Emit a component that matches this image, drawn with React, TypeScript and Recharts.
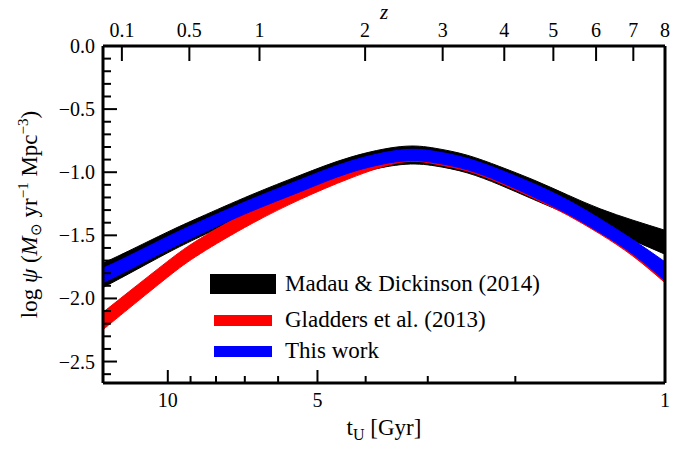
import React from 'react';
import { ComposedChart, Area, XAxis, YAxis, ReferenceLine, Legend, Label } from 'recharts';

// Cosmic age t_U (Gyr) sample points
const ageGyr = [13.5, 12, 10, 8.6, 6.8, 5.4, 4.3, 3.4, 2.9, 2.5, 2.15, 1.84, 1.57, 1.35, 1.16, 1.0];

// Madau & Dickinson (2014) band
const madauHigh = [-1.72, -1.625, -1.473, -1.355, -1.18, -1.022, -0.882, -0.797, -0.81, -0.865, -0.955, -1.06, -1.18, -1.29, -1.38, -1.46];
const madauLow = [-1.913, -1.806, -1.638, -1.51, -1.33, -1.187, -1.03, -0.94, -0.95, -1.005, -1.10, -1.215, -1.33, -1.435, -1.54, -1.65];

// Gladders et al. (2013) band
const gladdersHigh = [-2.11, -1.95, -1.705, -1.525, -1.30, -1.115, -0.958, -0.835, -0.845, -0.90, -0.99, -1.105, -1.24, -1.39, -1.555, -1.74];
const gladdersLow = [-2.247, -2.082, -1.83, -1.645, -1.41, -1.213, -1.048, -0.922, -0.935, -0.99, -1.085, -1.205, -1.34, -1.49, -1.665, -1.875];

// This work band
const thisHigh = [-1.76, -1.665, -1.51, -1.39, -1.215, -1.057, -0.913, -0.824, -0.835, -0.89, -0.98, -1.09, -1.22, -1.37, -1.535, -1.71];
const thisLow = [-1.875, -1.775, -1.615, -1.49, -1.31, -1.152, -1.003, -0.913, -0.925, -0.98, -1.075, -1.195, -1.33, -1.48, -1.65, -1.86];

const seriesNames = ['Madau & Dickinson (2014)', 'Gladders et al. (2013)', 'This work'];
const seriesColors = ['#000000', '#ff0000', '#0000ff'];

// Ticks
const bottomMajorTicks = [10, 5, 1];
const bottomMinorTicks = [9, 8, 7, 6, 4, 3, 2];
const topTickAges = [12.37, 9.05, 6.54, 4.01, 2.80, 2.105, 1.677, 1.376, 1.158, 1.0];
const topTickLabels = ['0.1', '0.5', '1', '2', '3', '4', '5', '6', '7', '8'];
const yMajorTicks = [0, -0.5, -1, -1.5, -2, -2.5];
const yMinorTicks = [-0.1, -0.2, -0.3, -0.4, -0.6, -0.7, -0.8, -0.9, -1.1, -1.2, -1.3, -1.4, -1.6, -1.7, -1.8, -1.9, -2.1, -2.2, -2.3, -2.4, -2.6];

const xDomain = [1, 13.5];
const yDomain = [-2.67, 0];

const FONT = '"Liberation Serif", "Times New Roman", serif';

const data = ageGyr.map((t, i) => ({
  t,
  madau: [madauLow[i], madauHigh[i]],
  gladders: [gladdersLow[i], gladdersHigh[i]],
  thiswork: [thisLow[i], thisHigh[i]],
}));

const fmtY = (v: number) => {
  const s = Math.abs(v).toFixed(1);
  return v < -1e-9 ? '\u2212' + s : s;
};

const LeftTick = (props: any) => {
  const { x, y, payload } = props;
  const v = payload.value;
  const major = yMajorTicks.some((m) => Math.abs(m - v) < 1e-6);
  return (
    <g>
      <line x1={x} x2={x + (major ? 14 : 8)} y1={y} y2={y} stroke="#000" strokeWidth={2} />
      {major && (
        <text x={x - 8} y={y + 7} textAnchor="end" fontSize={20} fontFamily={FONT} fill="#000">
          {fmtY(v)}
        </text>
      )}
    </g>
  );
};

const BottomTick = (props: any) => {
  const { x, y, payload } = props;
  const v = payload.value;
  const major = bottomMajorTicks.includes(v);
  return (
    <g>
      <line x1={x} x2={x} y1={y} y2={y - (major ? 13 : 7)} stroke="#000" strokeWidth={2} />
      {major && (
        <text x={x} y={y + 24} textAnchor="middle" fontSize={20} fontFamily={FONT} fill="#000">
          {String(v)}
        </text>
      )}
    </g>
  );
};

const TopTick = (props: any) => {
  const { x, y, payload, index } = props;
  const idx = topTickAges.findIndex((a) => Math.abs(a - payload.value) < 1e-6);
  const label = topTickLabels[idx >= 0 ? idx : index];
  return (
    <g>
      <line x1={x} x2={x} y1={y} y2={y + 15} stroke="#000" strokeWidth={2} />
      <text x={x} y={y - 9} textAnchor="middle" fontSize={20} fontFamily={FONT} fill="#000">
        {label}
      </text>
    </g>
  );
};

const YLabel = (props: any) => {
  const vb = props.viewBox || { x: 43, y: 46, width: 60, height: 337 };
  const cx = 37;
  const cy = vb.y + vb.height / 2;
  return (
    <text
      x={cx}
      y={cy}
      transform={`rotate(-90 ${cx} ${cy})`}
      textAnchor="middle"
      fontSize={23}
      fontFamily={FONT}
      fill="#000"
    >
      <tspan>{'log '}</tspan>
      <tspan fontStyle="italic">{'\u03C8'}</tspan>
      <tspan>{' ('}</tspan>
      <tspan fontStyle="italic">M</tspan>
      <tspan fontSize={15} dy={4}>{'\u2299'}</tspan>
      <tspan dy={-4}>{' yr'}</tspan>
      <tspan fontSize={15} dy={-9}>{'\u22121'}</tspan>
      <tspan dy={9}>{' Mpc'}</tspan>
      <tspan fontSize={15} dy={-9}>{'\u22123'}</tspan>
      <tspan dy={9}>{')'}</tspan>
    </text>
  );
};

const XLabel = (props: any) => {
  const vb = props.viewBox || { x: 103, y: 383, width: 562, height: 30 };
  const cx = vb.x + vb.width / 2;
  const by = vb.y + 52;
  return (
    <text x={cx} y={by} textAnchor="middle" fontSize={23} fontFamily={FONT} fill="#000">
      <tspan>t</tspan>
      <tspan fontSize={16} dy={5}>U</tspan>
      <tspan dy={-5}>{' [Gyr]'}</tspan>
    </text>
  );
};

const ZLabel = (props: any) => {
  const vb = props.viewBox || { x: 103, y: 16, width: 562, height: 30 };
  const cx = vb.x + vb.width / 2;
  return (
    <text x={cx} y={vb.y + 3} textAnchor="middle" fontSize={21} fontStyle="italic" fontFamily={FONT} fill="#000">
      z
    </text>
  );
};

const LegendBox = () => (
  <div style={{ fontFamily: FONT, fontSize: 23, color: '#000', lineHeight: 1 }}>
    {seriesNames.map((name, i) => (
      <div key={name} style={{ position: 'relative', height: i === 0 ? 36 : 31 }}>
        <div
          style={{
            position: 'absolute',
            left: i === 0 ? 0 : 4,
            top: i === 0 ? 0 : 5,
            width: i === 0 ? 66 : 58,
            height: i === 0 ? 20 : 11,
            background: seriesColors[i],
          }}
        />
        <div style={{ position: 'absolute', left: 75, top: -2, whiteSpace: 'nowrap' }}>{name}</div>
      </div>
    ))}
  </div>
);

export default function App() {
  return (
    <div style={{ position: 'absolute', left: 0, top: 0, width: 699, height: 450, background: '#fff' }}>
      <ComposedChart width={699} height={450} data={data} margin={{ top: 16, right: 34, bottom: 37, left: 43 }}>
        <XAxis
          dataKey="t"
          type="number"
          scale="log"
          domain={xDomain}
          reversed
          allowDataOverflow
          ticks={[...bottomMajorTicks, ...bottomMinorTicks]}
          interval={0}
          tickSize={0}
          tickMargin={0}
          tickLine={false}
          tick={<BottomTick />}
          axisLine={{ stroke: '#000', strokeWidth: 3 }}
          height={30}
        >
          <Label content={<XLabel />} />
        </XAxis>
        <XAxis
          xAxisId="top"
          orientation="top"
          dataKey="t"
          type="number"
          scale="log"
          domain={xDomain}
          reversed
          allowDataOverflow
          ticks={topTickAges}
          interval={0}
          tickSize={0}
          tickMargin={0}
          tickLine={false}
          tick={<TopTick />}
          axisLine={{ stroke: '#000', strokeWidth: 3 }}
          height={30}
        >
          <Label content={<ZLabel />} />
        </XAxis>
        <YAxis
          type="number"
          domain={yDomain}
          allowDataOverflow
          ticks={[...yMajorTicks, ...yMinorTicks]}
          interval={0}
          tickSize={0}
          tickMargin={0}
          tickLine={false}
          tick={<LeftTick />}
          axisLine={{ stroke: '#000', strokeWidth: 3 }}
          width={60}
        >
          <Label content={<YLabel />} />
        </YAxis>
        <Area
          dataKey="madau"
          name={seriesNames[0]}
          type="natural"
          fill={seriesColors[0]}
          fillOpacity={1}
          stroke={seriesColors[0]}
          strokeWidth={1}
          isAnimationActive={false}
          dot={false}
          activeDot={false}
        />
        <Area
          dataKey="gladders"
          name={seriesNames[1]}
          type="natural"
          fill={seriesColors[1]}
          fillOpacity={1}
          stroke={seriesColors[1]}
          strokeWidth={1}
          isAnimationActive={false}
          dot={false}
          activeDot={false}
        />
        <Area
          dataKey="thiswork"
          name={seriesNames[2]}
          type="natural"
          fill={seriesColors[2]}
          fillOpacity={1}
          stroke={seriesColors[2]}
          strokeWidth={1}
          isAnimationActive={false}
          dot={false}
          activeDot={false}
        />
        <ReferenceLine x={1} stroke="#000" strokeWidth={3} />
        <Legend
          layout="horizontal"
          verticalAlign="middle"
          align="center"
          content={<LegendBox />}
          wrapperStyle={{ position: 'absolute', left: 210, top: 274, width: 400 }}
        />
      </ComposedChart>
    </div>
  );
}
